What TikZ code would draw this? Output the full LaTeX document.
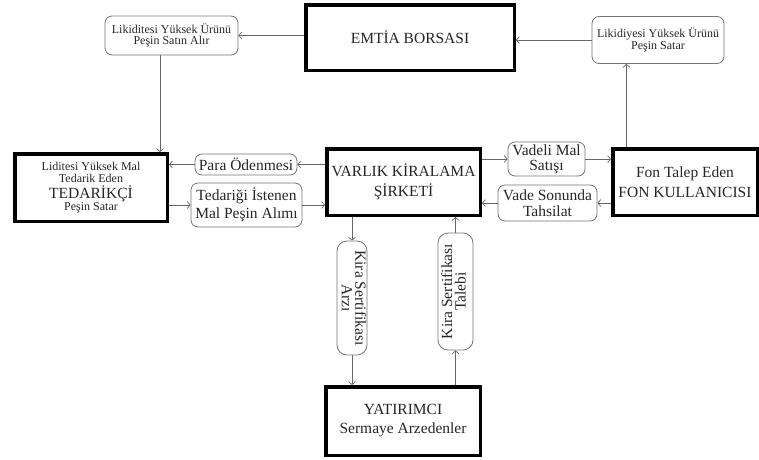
\documentclass[tikz,border=0pt]{standalone}
\usepackage{fontspec}
\usepackage{graphicx}
\setmainfont{Liberation Serif}
\usetikzlibrary{arrows.meta}
\newcommand{\bigtxt}{\fontsize{15.5}{16.5}\selectfont}
\newcommand{\smalltxt}{\fontsize{12}{11.5}\selectfont}
\begin{document}
\begin{tikzpicture}[x=1pt,y=-1pt,
  thickbox/.style={draw=black, line width=3.5pt, fill=white, align=center, inner sep=0pt, text=black!85},
  softbox/.style={draw=black!55, line width=0.8pt, rounded corners=7pt, align=center, inner sep=0pt, text=black!85},
  arr/.style={draw=black!60, line width=0.7pt, -{Straight Barb[length=3pt,width=7pt]}},
  big/.style={font=\bigtxt},
  wide/.style={font=\fontsize{15.5}{20}\selectfont},
  small/.style={font=\smalltxt},
]
\useasboundingbox (0,0) rectangle (759,459);

% thick boxes
\node[thickbox, big, minimum width=208.5, minimum height=65.5] (emtia) at (410,37.5) {EMTİA BORSASI};
\node[thickbox, minimum width=152.5, minimum height=67.5] (ted) at (91,187.5)
  {\fontsize{12}{13}\selectfont Liditesi Yüksek Mal\\\fontsize{12}{13}\selectfont Tedarik Eden\\[2pt]\bigtxt TEDARİKÇİ\\\fontsize{12}{14}\selectfont Peşin Satar};
\node[thickbox, wide, minimum width=153.5, minimum height=66.5] (varlik) at (403.5,182) {VARLIK KİRALAMA\\ŞİRKETİ};
\node[thickbox, wide, minimum width=144.5, minimum height=66.5] (fon) at (685,182) {Fon Talep Eden\\FON KULLANICISI};
\node[thickbox, font=\fontsize{15.5}{19}\selectfont, minimum width=154.5, minimum height=68.5] (yat) at (403,421) {YATIRIMCI\\Sermaye Arzedenler};

% rounded boxes
\node[softbox, small, minimum width=133, minimum height=39] (likL) at (171.5,35.5) {Likiditesi Yüksek Ürünü\\Peşin Satın Alır};
\node[softbox, small, minimum width=132, minimum height=47] (likR) at (658,40) {Likidiyesi Yüksek Ürünü\\Peşin Satar};
\node[softbox, big, minimum width=102, minimum height=21] (para) at (246,164.5) {Para Ödenmesi};
\node[softbox, font=\fontsize{15.5}{18}\selectfont, minimum width=111, minimum height=44] (tedi) at (246.5,205) {Tedariği İstenen\\Mal Peşin Alımı};
\node[softbox, font=\fontsize{15.5}{15}\selectfont, minimum width=77, minimum height=34] (vadeli) at (546.5,159) {Vadeli Mal\\Satışı};
\node[softbox, font=\fontsize{15.5}{16}\selectfont, minimum width=99, minimum height=36] (vade) at (547.5,203) {Vade Sonunda\\Tahsilat};
\node[softbox, big, minimum width=30, minimum height=114, rounded corners=10pt] (arzi) at (352,298)
  {\rotatebox{-90}{\bigtxt\begin{tabular}{@{}c@{}}Kira Sertifikası\\[-3pt]Arzı\end{tabular}}};
\node[softbox, big, minimum width=35, minimum height=117, rounded corners=10pt] (talebi) at (455.5,291.5)
  {\rotatebox{90}{\bigtxt\begin{tabular}{@{}c@{}}Kira Sertifikası\\[-3pt]Talebi\end{tabular}}};

% connectors
\draw[arr] (emtia.west |- likL.east) -- (likL.east);
\draw[arr] (likR.west) -- (likR.west -| emtia.east);
\draw[arr] ([xshift=-11.5pt]likL.south) -- ([xshift=-11.5pt]likL.south |- ted.north);
\draw[arr] ([xshift=-58.5pt]fon.north) -- ([xshift=-58.5pt]fon.north |- likR.south);

\draw[arr] (para.east -| varlik.west) -- (para.east);
\draw[arr] (para.west) -- (para.west -| ted.east);
\draw[arr] (tedi.west -| ted.east) -- (tedi.west);
\draw[arr] (tedi.east) -- (tedi.east -| varlik.west);

\draw[arr] (vadeli.west -| varlik.east) -- (vadeli.west);
\draw[arr] (vadeli.east) -- (vadeli.east -| fon.west);
\draw[arr] (vade.east -| fon.west) -- (vade.east);
\draw[arr] (vade.west) -- (vade.west -| varlik.east);

\draw[arr] (arzi.north |- varlik.south) -- (arzi.north);
\draw[arr] (arzi.south) -- (arzi.south |- yat.north);
\draw[arr] (talebi.south |- yat.north) -- (talebi.south);
\draw[arr] (talebi.north) -- (talebi.north |- varlik.south);
\end{tikzpicture}
\end{document}
